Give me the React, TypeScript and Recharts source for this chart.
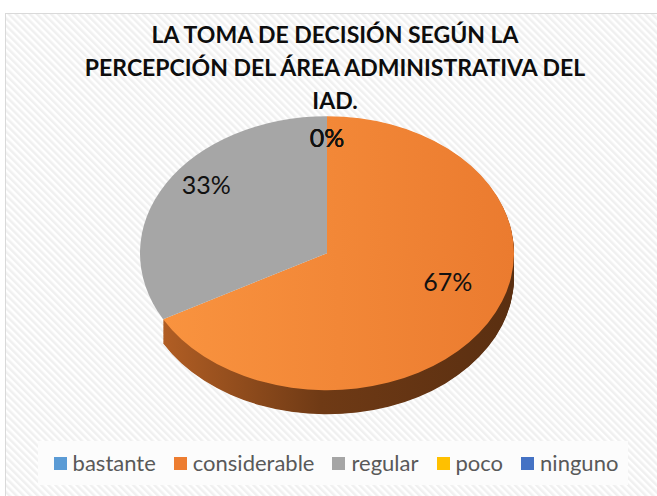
import { Cell, Pie, PieChart } from "recharts";

// categorías y porcentajes
const categories = ["bastante", "considerable", "regular", "poco", "ninguno"];
const percentages = [0, 67, 33, 0, 0];
const legendColors = ["#5B9BD5", "#ED7D31", "#A5A5A5", "#FFC000", "#4472C4"];
const topFills = ["#5B9BD5", "url(#orangeTop)", "#A6A6A6", "#FFC000", "#4472C4"];
// el lado gris queda oculto por la perspectiva
const sideFills = ["none", "url(#orangeSide)", "none", "none", "none"];
const titleLines = [
  "LA TOMA DE DECISIÓN SEGÚN LA",
  "PERCEPCIÓN DEL ÁREA ADMINISTRATIVA DEL",
  "IAD.",
];

const data = categories.map((name, i) => ({ name, value: percentages[i] }));

const FONT = "Lato, 'Liberation Sans', sans-serif";
const SQUASH = 0.7326; // achatamiento vertical del "3D"
const R = 187;
const SIZE = 380;
const DEPTH = 33; // grosor del pastel (sin achatar)
const APEX_SHIFT = 28;
const depthLayers = Array.from({ length: DEPTH }, (_, i) => DEPTH - i);

const RADIAN = Math.PI / 180;

const renderLabel = (props: any) => {
  const { cx, cy, midAngle, outerRadius, percent, index } = props;
  const x = cx + outerRadius * 0.75 * Math.cos(-midAngle * RADIAN);
  const y = cy - APEX_SHIFT + outerRadius * 0.7 * Math.sin(-midAngle * RADIAN);
  return (
    <text
      key={`lbl-${index}`}
      x={x}
      y={y * SQUASH}
      transform={`scale(1, ${1 / SQUASH})`}
      textAnchor="middle"
      dominantBaseline="central"
      fill="#111"
      fontSize={25}
      fontFamily={FONT}
    >
      {`${Math.round(percent * 100)}%`}
    </text>
  );
};

const App = () => {
  return (
    <div
      style={{
        position: "absolute",
        left: 0,
        top: 0,
        width: 657,
        height: 496,
        overflow: "hidden",
        background: "#fff",
        fontFamily: FONT,
      }}
    >
      <svg width={657} height={496} style={{ position: "absolute", left: 0, top: 0 }}>
        <defs>
          <pattern id="stripes" width="5" height="5" patternUnits="userSpaceOnUse" patternTransform="rotate(-45)">
            <rect width="5" height="5" fill="#ffffff" />
            <rect width="2.5" height="5" fill="#f0f0f0" />
          </pattern>
        </defs>
        <rect x={5.5} y={13.5} width={700} height={600} fill="url(#stripes)" stroke="#d9d9d9" strokeWidth={1} />
        <rect x={38} y={441} width={590} height={44} fill="#fcfcfc" />
        {titleLines.map((t, i) => (
          <text
            key={t}
            x={335}
            y={43 + i * 33}
            textAnchor="middle"
            fontSize={23}
            fontWeight={700}
            fill="#0d0d0d"
            fontFamily={FONT}
          >
            {t}
          </text>
        ))}
      </svg>

      <div
        style={{
          position: "absolute",
          left: 327 - SIZE / 2,
          top: 253 - (SIZE / 2) * SQUASH,
          transform: `scaleY(${SQUASH})`,
          transformOrigin: "0 0",
        }}
      >
        <PieChart width={SIZE} height={SIZE + DEPTH + 4} margin={{ top: 0, right: 0, bottom: 0, left: 0 }}>
          <defs>
            <linearGradient id="orangeTop" x1="0" y1="0" x2="1" y2="0">
              <stop offset="0%" stopColor="#f9933f" />
              <stop offset="100%" stopColor="#eb7b2f" />
            </linearGradient>
            <linearGradient id="orangeSide" x1="0" y1="0" x2="1" y2="0">
              <stop offset="0%" stopColor="#b15e24" />
              <stop offset="45%" stopColor="#6f3a15" />
              <stop offset="100%" stopColor="#5a2f11" />
            </linearGradient>
          </defs>
          {depthLayers.map((d) => (
            <Pie
              key={`side-${d}`}
              data={data}
              dataKey="value"
              cx={SIZE / 2}
              cy={SIZE / 2 + d}
              outerRadius={R}
              startAngle={90}
              endAngle={-270}
              stroke="none"
              label={false}
              labelLine={false}
              isAnimationActive={false}
            >
              {data.map((entry, i) => (
                <Cell key={entry.name} fill={sideFills[i]} stroke="none" />
              ))}
            </Pie>
          ))}
          <Pie
            data={data}
            dataKey="value"
            cx={SIZE / 2}
            cy={SIZE / 2}
            outerRadius={R}
            startAngle={90}
            endAngle={-270}
            stroke="none"
            label={renderLabel}
            labelLine={false}
            isAnimationActive={false}
          >
            {data.map((entry, i) => (
              <Cell key={entry.name} fill={topFills[i]} stroke="none" />
            ))}
          </Pie>
        </PieChart>
      </div>

      {/* leyenda */}
      <div
        style={{
          position: "absolute",
          left: 0,
          width: 672,
          top: 448,
          height: 30,
          display: "flex",
          justifyContent: "center",
          alignItems: "center",
          gap: 18,
        }}
      >
        {categories.map((c, i) => (
          <div key={c} style={{ display: "flex", alignItems: "center", gap: 6 }}>
            <span style={{ width: 13, height: 13, background: legendColors[i], display: "inline-block" }} />
            <span style={{ fontSize: 22, color: "#595959", lineHeight: "30px" }}>{c}</span>
          </div>
        ))}
      </div>
    </div>
  );
};

export default App;
